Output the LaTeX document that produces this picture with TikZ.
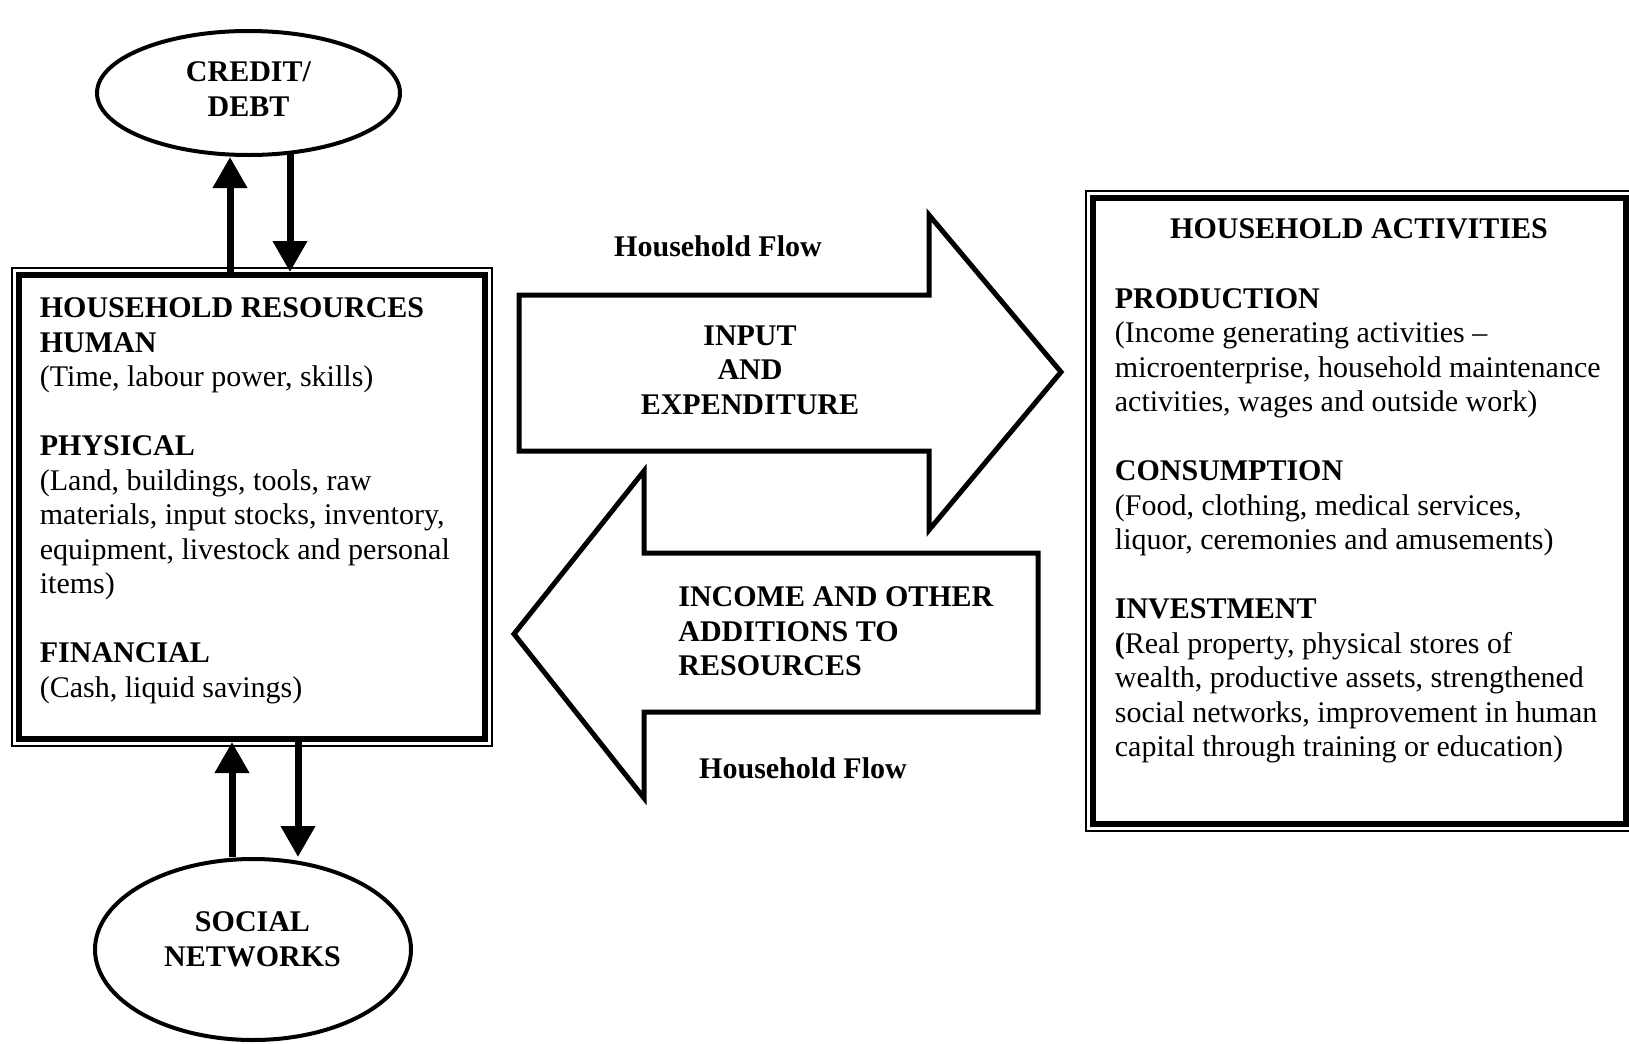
\documentclass[tikz,border=0pt]{standalone}
\usepackage{fontspec}
\setmainfont{Liberation Serif}
\usetikzlibrary{shapes.geometric, arrows.meta, positioning}

\begin{document}
\begin{tikzpicture}[x=0.5pt, y=-0.5pt,
    txt/.style={inner sep=0pt, font=\fontsize{15pt}{17.25pt}\selectfont},
    hd/.style={txt, font=\fontsize{15pt}{17.25pt}\selectfont\bfseries},
    oval/.style={draw, ellipse, line width=2pt, inner sep=0pt},
    framebox/.style={draw, line width=3pt, inner sep=0pt},
    flowshape/.style={line width=2.5pt, line join=miter},
    linkarrow/.style={line width=3.5pt, -{Triangle[width=16.5pt, length=15.5pt]}}]
    \useasboundingbox (0,0) rectangle (1629,1044);
    \clip (0,0) rectangle (1629,1044);

    % resources box (thick line inside a thin one)
    \node[framebox, minimum width=233pt, minimum height=232pt] (res) at (252,507) {};
    \draw[line width=0.65pt] ([shift={(-2pt,2pt)}]res.north west) rectangle ([shift={(2pt,-2pt)}]res.south east);
    \node[txt, anchor=north west, align=left] (restext) at (39.5,297.5)
        {\textbf{HOUSEHOLD RESOURCES}\\ \textbf{HUMAN}\\ (Time, labour power, skills)\\[17.25pt]
         \textbf{PHYSICAL}\\ (Land, buildings, tools, raw\\ materials, input stocks, inventory,\\
         equipment, livestock and personal\\ items)\\[17.25pt]
         \textbf{FINANCIAL}\\ (Cash, liquid savings)};

    % activities box
    \node[framebox, minimum width=266.5pt, minimum height=313pt] (act) at (1359.5,511) {};
    \draw[line width=0.65pt] ([shift={(-2pt,2pt)}]act.north west) rectangle ([shift={(2pt,-2pt)}]act.south east);
    \node[hd] (acttitle) at (1359,228.5) {HOUSEHOLD ACTIVITIES};
    \node[txt, anchor=north west, align=left] (acttext) at (1114.5,288)
        {\textbf{PRODUCTION}\\ (Income generating activities --\\ microenterprise, household maintenance\\
         activities, wages and outside work)\\[17.25pt]
         \textbf{CONSUMPTION}\\ (Food, clothing, medical services,\\ liquor, ceremonies and amusements)\\[17.25pt]
         \textbf{INVESTMENT}\\ \textbf{(}Real property, physical stores of\\ wealth, productive assets, strengthened\\
         social networks, improvement in human\\ capital through training or education)};

    % the two big flow arrows
    \draw[flowshape] (519,295) -- (929,295) -- (929,215) -- (1061,372) -- (929,530) -- (929,451) -- (519,451) -- cycle;
    \draw[flowshape] (1038,553) -- (644,553) -- (644,471) -- (514,634) -- (644,798) -- (644,712) -- (1038,712) -- cycle;
    \node[hd] (flowtop) at (718,246) {Household Flow};
    \node[hd, align=center] (inexp) at (750,370) {INPUT\\AND\\EXPENDITURE};
    \node[hd, anchor=west, align=left] (incadd) at (678,631.5) {INCOME AND OTHER\\ADDITIONS TO\\RESOURCES};
    \node[hd] (flowbot) at (803,768) {Household Flow};

    % ellipses
    \node[oval, minimum width=151.5pt, minimum height=62pt] (credit) at (248.5,93) {};
    \node[hd, align=center] (credittxt) at (248.5,89) {CREDIT/\\DEBT};
    \node[oval, minimum width=158pt, minimum height=90.5pt] (social) at (253,949.5) {};
    \node[hd, align=center] (socialtxt) at (252.5,939.5) {SOCIAL\\NETWORKS};

    % links
    \draw[linkarrow] ([xshift=-11pt]res.north) -- ([xshift=-9.25pt]credit.south);
    \draw[linkarrow] ([xshift=20.75pt,yshift=1.5pt]credit.south) -- ([xshift=19pt]res.north);
    \draw[linkarrow] ([xshift=-10.5pt]social.north) -- ([xshift=-10pt]res.south);
    \draw[linkarrow] ([xshift=23pt]res.south) -- ([xshift=22.5pt]social.north);
\end{tikzpicture}
\end{document}
